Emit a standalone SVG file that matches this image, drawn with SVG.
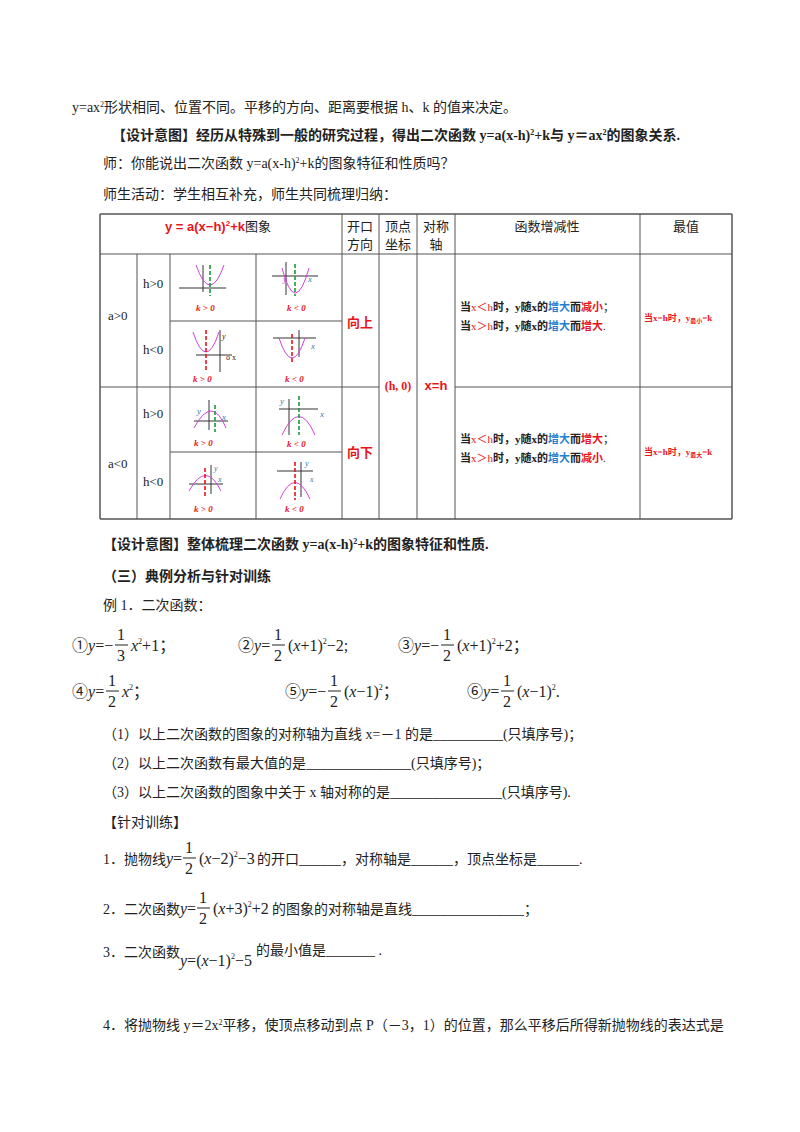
<svg xmlns="http://www.w3.org/2000/svg" width="800" height="1132" viewBox="0 0 800 1132">
<style>
text{font-family:"Liberation Serif","Noto Sans CJK SC",serif;font-size:14px;fill:#222}
#table-text text{font-size:13px}
.b{font-weight:bold}
.r{fill:#e8141b}
.bl{fill:#1f7fd0}
.i{font-style:italic}
.m{font-size:16px}
.s{font-size:8px}
.g line,.g path{fill:none}
.ax{stroke:#333;stroke-width:1}
.pa{stroke:#d040d8;stroke-width:1}
.gd{stroke:#1a9a3a;stroke-width:1.6;stroke-dasharray:4 2}
.rd{stroke:#e8141b;stroke-width:1.6;stroke-dasharray:4 2}
.kl{font-size:9px;font-style:italic;font-weight:bold;fill:#e8141b}
.tb line{stroke:#555;stroke-width:1}
.fb{stroke:#222;stroke-width:1}
</style>
<rect width="800" height="1132" fill="#fff"/>
<text x="72" y="112">y=ax<tspan class="s" dy="-5">2</tspan><tspan dy="5">形状相同、位置不同。平移的方向、距离要根据 h、k 的值来决定。</tspan></text>
<text x="112" y="140" class="b">【设计意图】经历从特殊到一般的研究过程，得出二次函数 y=a(x-h)<tspan class="s" dy="-5">2</tspan><tspan dy="5">+k与 y＝ax</tspan><tspan class="s" dy="-5">2</tspan><tspan dy="5">的图象关系.</tspan></text>
<text x="103" y="168">师：你能说出二次函数 y=a(x-h)<tspan class="s" dy="-5">2</tspan><tspan dy="5">+k的图象特征和性质吗？</tspan></text>
<text x="103" y="199">师生活动：学生相互补充，师生共同梳理归纳：</text>

<g id="table" class="tb">
<line x1="100" y1="214" x2="732" y2="214" style="stroke-width:1.5"/>
<line x1="100" y1="519" x2="732" y2="519" style="stroke-width:1.5"/>
<line x1="100" y1="254" x2="732" y2="254"/>
<line x1="100" y1="387" x2="379" y2="387"/>
<line x1="455" y1="387" x2="732" y2="387"/>
<line x1="170" y1="321" x2="342" y2="321"/>
<line x1="170" y1="452" x2="342" y2="452"/>
<line x1="100" y1="214" x2="100" y2="519" style="stroke-width:1.5"/>
<line x1="732" y1="214" x2="732" y2="519" style="stroke-width:1.5"/>
<line x1="137" y1="254" x2="137" y2="519"/>
<line x1="170" y1="254" x2="170" y2="519"/>
<line x1="256" y1="254" x2="256" y2="519"/>
<line x1="342" y1="214" x2="342" y2="519"/>
<line x1="379" y1="214" x2="379" y2="519"/>
<line x1="417" y1="214" x2="417" y2="519"/>
<line x1="455" y1="214" x2="455" y2="519"/>
<line x1="640" y1="214" x2="640" y2="519"/>
</g>
<g id="table-text">
<g id="header">
<text x="165" y="231" class="b r" style='font-family:"Liberation Sans","Noto Sans CJK SC",sans-serif'>y = a(x−h)<tspan class="s" dy="-5">2</tspan><tspan dy="5">+k</tspan><tspan style="fill:#222;font-weight:normal">图象</tspan></text>
<text x="360" y="231" text-anchor="middle">开口</text><text x="360" y="249" text-anchor="middle">方向</text>
<text x="398" y="231" text-anchor="middle">顶点</text><text x="398" y="249" text-anchor="middle">坐标</text>
<text x="436" y="231" text-anchor="middle">对称</text><text x="436" y="249" text-anchor="middle">轴</text>
<text x="547" y="231" text-anchor="middle">函数增减性</text>
<text x="686" y="231" text-anchor="middle">最值</text>
</g>
<g id="labels">
<text x="108" y="320">a&gt;0</text><text x="108" y="468">a&lt;0</text>
<text x="143" y="288">h&gt;0</text><text x="143" y="354">h&lt;0</text>
<text x="143" y="418">h&gt;0</text><text x="143" y="486">h&lt;0</text>
<text x="360" y="327" text-anchor="middle" class="b r">向上</text>
<text x="360" y="457" text-anchor="middle" class="b r">向下</text>
<text x="398" y="390" text-anchor="middle" class="b r" style="font-size:12px">(h, 0)</text>
<text x="436" y="390" text-anchor="middle" class="b r" style='font-family:"Liberation Sans",sans-serif'>x=h</text>
<text x="460" y="311" style="font-size:11px"><tspan class="b">当</tspan><tspan class="r">x＜h</tspan><tspan class="b">时，y随x的</tspan><tspan class="bl b">增大</tspan><tspan class="b">而</tspan><tspan class="r b">减小</tspan>；</text>
<text x="460" y="330" style="font-size:11px"><tspan class="b">当</tspan><tspan class="r">x＞h</tspan><tspan class="b">时，y随x的</tspan><tspan class="bl b">增大</tspan><tspan class="b">而</tspan><tspan class="r b">增大</tspan>.</text>
<text x="460" y="443" style="font-size:11px"><tspan class="b">当</tspan><tspan class="r">x＜h</tspan><tspan class="b">时，y随x的</tspan><tspan class="bl b">增大</tspan><tspan class="b">而</tspan><tspan class="r b">增大</tspan>；</text>
<text x="460" y="462" style="font-size:11px"><tspan class="b">当</tspan><tspan class="r">x＞h</tspan><tspan class="b">时，y随x的</tspan><tspan class="bl b">增大</tspan><tspan class="b">而</tspan><tspan class="r b">减小</tspan>.</text>
<text x="644" y="321" class="r b" style="font-size:9px">当x=h时，y<tspan style="font-size:6px" dy="2">最小</tspan><tspan dy="-2">=k</tspan></text>
<text x="644" y="455" class="r b" style="font-size:9px">当x=h时，y<tspan style="font-size:6px" dy="2">最大</tspan><tspan dy="-2">=k</tspan></text>
</g>
</g>
<g id="graphs" class="g">
<line class="ax" x1="179" y1="288" x2="226" y2="288"/><line class="ax" x1="203" y1="265" x2="203" y2="292"/>
<path class="pa" d="M196 265 Q210 305 224 265"/><line class="gd" x1="210" y1="265" x2="210" y2="296"/>
<text x="196" y="311" class="kl">k &gt; 0</text>
<line class="ax" x1="272" y1="276" x2="318" y2="276"/><line class="ax" x1="286" y1="262" x2="286" y2="295"/>
<path class="pa" d="M282 268 Q295 318 309 268"/><line class="gd" x1="295" y1="264" x2="295" y2="296"/>
<text x="283" y="282" class="i" style="font-size:9px;fill:#c040c0">y</text><text x="308" y="282" class="i" style="font-size:9px;fill:#3a7aa0">x</text>
<text x="287" y="311" class="kl">k &lt; 0</text>
<line class="ax" x1="196" y1="355" x2="232" y2="355"/><line class="ax" x1="220" y1="330" x2="220" y2="372"/>
<path class="pa" d="M193 332 Q206 372 219 332"/><line class="rd" x1="206" y1="330" x2="206" y2="372"/>
<text x="222" y="339" class="i" style="font-size:8px">y</text><text x="226" y="360" style="font-size:8px">o x</text>
<text x="193" y="382" class="kl">k &gt; 0</text>
<line class="ax" x1="273" y1="338" x2="316" y2="338"/><line class="ax" x1="299" y1="330" x2="299" y2="357"/>
<path class="pa" d="M279 338 Q292 378 305 338"/><line class="rd" x1="292" y1="334" x2="292" y2="362"/>
<text x="311" y="349" class="i" style="font-size:9px;fill:#3a7aa0">x</text>
<text x="285" y="382" class="kl">k &lt; 0</text>
<line class="ax" x1="194" y1="421" x2="228" y2="421"/><line class="ax" x1="209" y1="400" x2="209" y2="430"/>
<path class="pa" d="M194 428 Q212 394 226 428"/><line class="gd" x1="215" y1="405" x2="215" y2="432"/>
<text x="197" y="414" class="i" style="font-size:9px;fill:#3a7aa0">y</text><text x="222" y="420" class="i" style="font-size:9px;fill:#3a7aa0">x</text>
<text x="194" y="446" class="kl">k &gt; 0</text>
<line class="ax" x1="279" y1="409" x2="318" y2="409"/><line class="ax" x1="289" y1="399" x2="289" y2="435"/>
<path class="pa" d="M282 435 Q299 398 315 435"/><line class="gd" x1="299" y1="396" x2="299" y2="435"/>
<text x="280" y="404" class="i" style="font-size:9px;fill:#3a7aa0">y</text><text x="320" y="417" class="i" style="font-size:9px;fill:#3a7aa0">x</text>
<text x="287" y="447" class="kl">k &lt; 0</text>
<line class="ax" x1="189" y1="484" x2="223" y2="484"/><line class="ax" x1="211" y1="465" x2="211" y2="494"/>
<path class="pa" d="M189 491 Q206 460 221 491"/><line class="rd" x1="205" y1="468" x2="205" y2="496"/>
<text x="214" y="471" class="i" style="font-size:8px;fill:#3a7aa0">y</text><text x="218" y="482" class="i" style="font-size:8px;fill:#3a7aa0">x</text>
<text x="194" y="512" class="kl">k &gt; 0</text>
<line class="ax" x1="277" y1="471" x2="313" y2="471"/><line class="ax" x1="301" y1="462" x2="301" y2="497"/>
<path class="pa" d="M280 499 Q295 466 310 499"/><line class="rd" x1="295" y1="462" x2="295" y2="500"/>
<text x="305" y="466" class="i" style="font-size:8px;fill:#3a7aa0">y</text><text x="310" y="482" class="i" style="font-size:8px;fill:#3a7aa0">x</text>
<text x="285" y="512" class="kl">k &lt; 0</text>
</g>

<text x="103" y="549" class="b">【设计意图】整体梳理二次函数 y=a(x-h)<tspan class="s" dy="-5">2</tspan><tspan dy="5">+k的图象特征和性质.</tspan></text>
<text x="103" y="581" class="b">（三）典例分析与针对训练</text>
<text x="103" y="610">例 1．二次函数：</text>

<g id="formulas">
<text x="72" y="651" class="m">①<tspan class="i">y</tspan>=−</text>
<text x="117" y="640" class="m">1</text><line class="fb" x1="115" y1="645" x2="128" y2="645"/><text x="117" y="661" class="m">3</text>
<text x="131" y="651" class="m"><tspan class="i">x</tspan><tspan class="s" dy="-7">2</tspan><tspan dy="7">+1；</tspan></text>
<text x="238" y="651" class="m">②<tspan class="i">y</tspan>=</text>
<text x="274" y="640" class="m">1</text><line class="fb" x1="272" y1="645" x2="285" y2="645"/><text x="274" y="661" class="m">2</text>
<text x="288" y="651" class="m">(<tspan class="i">x</tspan>+1)<tspan class="s" dy="-7">2</tspan><tspan dy="7">−2;</tspan></text>
<text x="398" y="651" class="m">③<tspan class="i">y</tspan>=−</text>
<text x="443" y="640" class="m">1</text><line class="fb" x1="441" y1="645" x2="454" y2="645"/><text x="443" y="661" class="m">2</text>
<text x="457" y="651" class="m">(<tspan class="i">x</tspan>+1)<tspan class="s" dy="-7">2</tspan><tspan dy="7">+2；</tspan></text>

<text x="72" y="697" class="m">④<tspan class="i">y</tspan>=</text>
<text x="108" y="686" class="m">1</text><line class="fb" x1="106" y1="691" x2="119" y2="691"/><text x="108" y="707" class="m">2</text>
<text x="122" y="697" class="m"><tspan class="i">x</tspan><tspan class="s" dy="-7">2</tspan><tspan dy="7">；</tspan></text>
<text x="285" y="697" class="m">⑤<tspan class="i">y</tspan>=−</text>
<text x="330" y="686" class="m">1</text><line class="fb" x1="328" y1="691" x2="341" y2="691"/><text x="330" y="707" class="m">2</text>
<text x="344" y="697" class="m">(<tspan class="i">x</tspan>−1)<tspan class="s" dy="-7">2</tspan><tspan dy="7">；</tspan></text>
<text x="467" y="697" class="m">⑥<tspan class="i">y</tspan>=</text>
<text x="503" y="686" class="m">1</text><line class="fb" x1="501" y1="691" x2="514" y2="691"/><text x="503" y="707" class="m">2</text>
<text x="517" y="697" class="m">(<tspan class="i">x</tspan>−1)<tspan class="s" dy="-7">2</tspan><tspan dy="7">.</tspan></text>
</g>

<text x="103" y="739">（1）以上二次函数的图象的对称轴为直线 x=－1 的是__________(只填序号)；</text>
<text x="103" y="768">（2）以上二次函数有最大值的是_______________(只填序号)；</text>
<text x="103" y="797">（3）以上二次函数的图象中关于 x 轴对称的是________________(只填序号).</text>
<text x="103" y="827">【针对训练】</text>

<text x="103" y="864">1．抛物线</text>
<text x="166" y="864" class="m"><tspan class="i">y</tspan>=</text>
<text x="185" y="853" class="m">1</text><line class="fb" x1="183" y1="858" x2="196" y2="858"/><text x="185" y="874" class="m">2</text>
<text x="199" y="864" class="m">(<tspan class="i">x</tspan>−2)<tspan class="s" dy="-7">2</tspan><tspan dy="7">−3</tspan></text>
<text x="257" y="864">的开口______，对称轴是______，顶点坐标是______.</text>

<text x="103" y="914">2．二次函数</text>
<text x="180" y="914" class="m"><tspan class="i">y</tspan>=</text>
<text x="199" y="903" class="m">1</text><line class="fb" x1="197" y1="908" x2="210" y2="908"/><text x="199" y="924" class="m">2</text>
<text x="213" y="914" class="m">(<tspan class="i">x</tspan>+3)<tspan class="s" dy="-7">2</tspan><tspan dy="7">+2</tspan></text>
<text x="272" y="914">的图象的对称轴是直线________________；</text>

<text x="103" y="957">3．二次函数</text>
<text x="180" y="966" class="m"><tspan class="i">y</tspan>=(<tspan class="i">x</tspan>−1)<tspan class="s" dy="-7">2</tspan><tspan dy="7">−5</tspan></text>
<text x="256" y="955">的最小值是_______ .</text>

<text x="103" y="1030">4．将抛物线 y＝2x<tspan class="s" dy="-5">2</tspan><tspan dy="5">平移，使顶点移动到点 P（－3，1）的位置，那么平移后所得新抛物线的表达式是</tspan></text>
</svg>
